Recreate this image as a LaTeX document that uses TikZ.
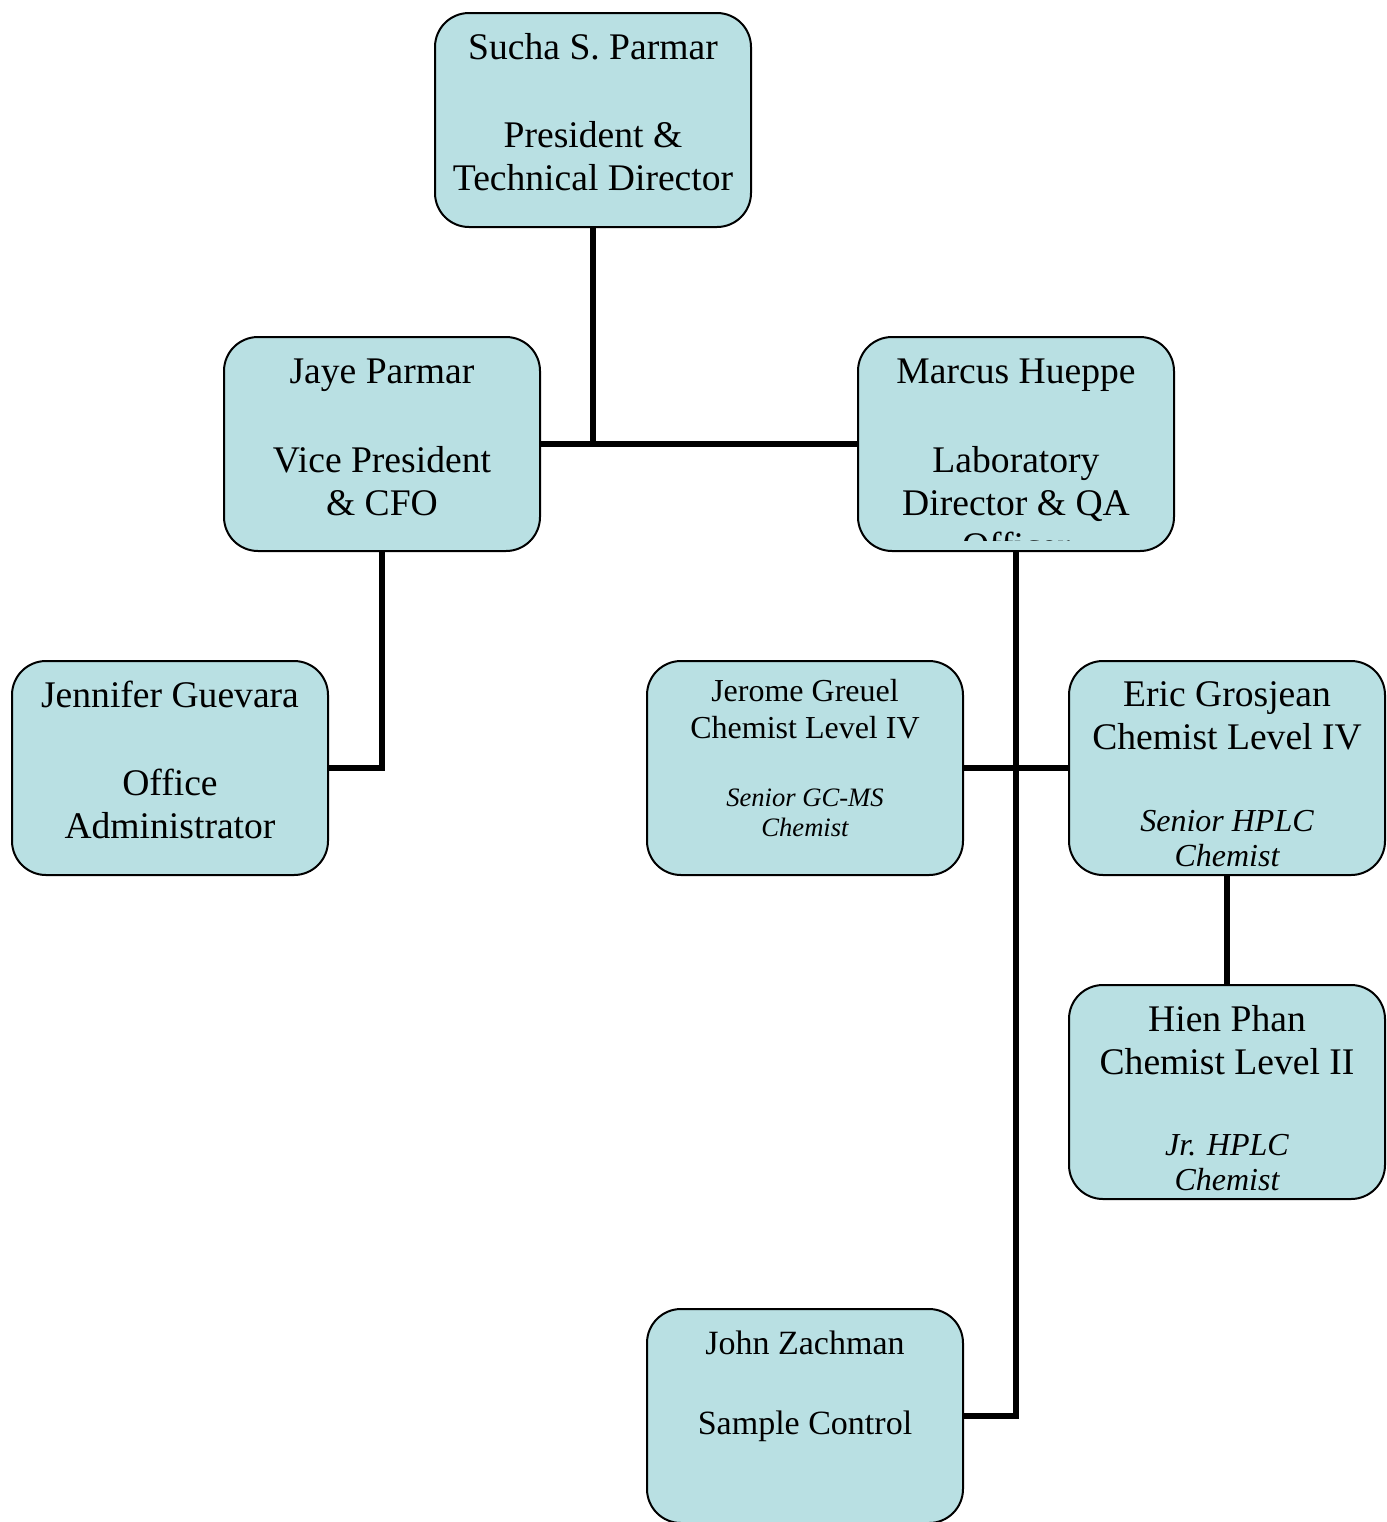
\documentclass[tikz,border=0pt]{standalone}
\usepackage{fontspec}
\setmainfont{Liberation Serif}
\usepackage{xcolor}
\usepackage{tikz}

\definecolor{boxfill}{RGB}{185,224,227}

\begin{document}
\begin{tikzpicture}[x=0.5pt,y=0.5pt,yscale=-1,xscale=1,
  unit/.style={rectangle, rounded corners=17pt, draw=black, line width=1pt, fill=boxfill, minimum width=158pt, minimum height=107pt, inner sep=0pt},
  link/.style={line width=2.6pt},
  bigtxt/.style={anchor=north, inner sep=0pt, align=center, font=\fontsize{18.8}{21.5}\selectfont},
  midtxt/.style={anchor=north, inner sep=0pt, align=center, font=\fontsize{17}{20}\selectfont},
  smalltxt/.style={anchor=north, inner sep=0pt, align=center, font=\fontsize{16}{18.5}\selectfont},
  roletxt/.style={anchor=north, inner sep=0pt, align=center, font=\fontsize{16}{17.5}\selectfont\itshape},
  tinyrole/.style={anchor=north, inner sep=0pt, align=center, font=\fontsize{13.3}{15}\selectfont\itshape}]
\useasboundingbox (0,0) rectangle (1387,1522);

%Rounded Rect [Sucha]
\node[unit] (sucha) at (593,120) {};
\node[bigtxt] (sucha-txt) at (593,33) {Sucha S. Parmar\\[22.5pt]President \&\\Technical Director};

%Rounded Rect [Jaye]
\node[unit] (jaye) at (382,444) {};
\node[bigtxt] (jaye-txt) at (382,358) {Jaye Parmar\\[23pt]Vice President\\\& CFO};

%Rounded Rect [Marcus]
\node[unit] (marcus) at (1016,444) {};
\begin{scope}
\clip ([yshift=-6pt]marcus.south west) rectangle (marcus.north east);
\node[bigtxt] (marcus-txt) at (1016,358) {Marcus Hueppe\\[23pt]Laboratory\\Director \& QA\\Officer};
\end{scope}

%Rounded Rect [Jennifer]
\node[unit] (jennifer) at (170,768) {};
\node[bigtxt] (jennifer-txt) at (170,681) {Jennifer Guevara\\[22.5pt]Office\\Administrator};

%Rounded Rect [Jerome]
\node[unit] (jerome) at (805,768) {};
\node[smalltxt] (jerome-txt) at (805,679) {Jerome Greuel\\Chemist Level IV};
\node[tinyrole] (jerome-role) at (805,788) {Senior GC-MS\\Chemist};

%Rounded Rect [Eric]
\node[unit] (eric) at (1227,768) {};
\node[bigtxt] (eric-txt) at (1227,681) {Eric Grosjean\\Chemist Level IV};
\node[roletxt] (eric-role) at (1227,810) {Senior HPLC\\Chemist};

%Rounded Rect [Hien]
\node[unit] (hien) at (1227,1092) {};
\node[bigtxt] (hien-txt) at (1227,1005) {Hien Phan\\Chemist Level II};
\begin{scope}
\clip ([yshift=-4.5pt]hien.south west) rectangle (hien.north east);
\node[roletxt] (hien-role) at (1227,1134) {Jr. HPLC\\Chemist};
\end{scope}

%Rounded Rect [John]
\node[unit] (john) at (805,1416) {};
\node[midtxt] (john-txt) at (805,1330) {John Zachman\\[20pt]Sample Control};

%Straight Lines
\draw[link] (sucha.south) -- (sucha.south |- jaye.east);
\draw[link] (jaye.east) -- (marcus.west);
\draw[link] (jaye.south) |- (jennifer.east);
\draw[link] (marcus.south) |- (john.east);
\draw[link] (jerome.east) -- (eric.west);
\draw[link] (eric.south) -- (hien.north);
\end{tikzpicture}
\end{document}
